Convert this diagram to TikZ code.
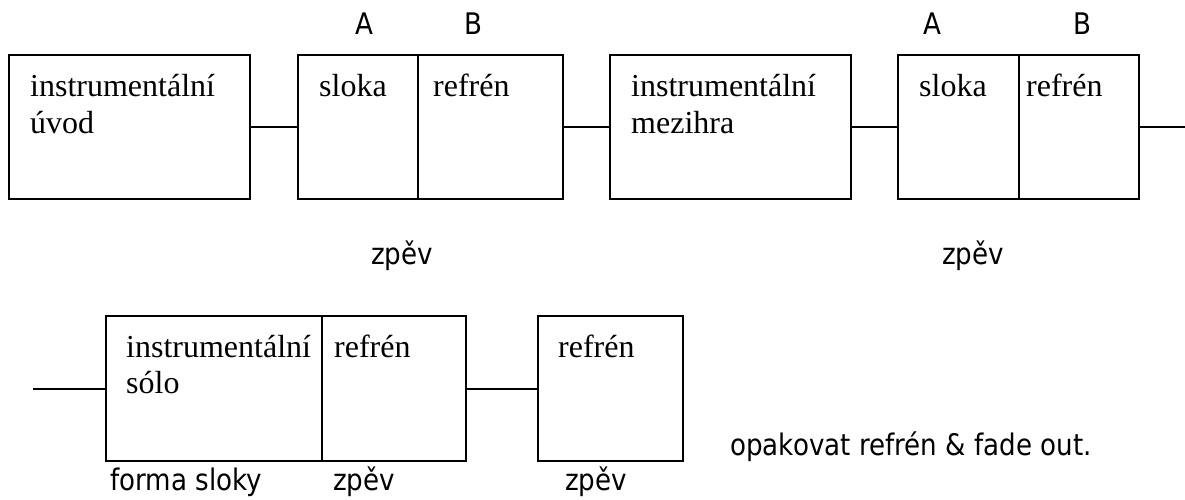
\documentclass[tikz,border=0pt]{standalone}
\usepackage{fontspec}
\setmainfont{Liberation Serif}
\newfontfamily\labelfont[FakeStretch=0.88]{DejaVu Sans}
\begin{document}
\begin{tikzpicture}[x=1pt,y=-1pt,
  box/.style={draw, line width=2pt, inner sep=0pt, minimum height=144pt},
  serif/.style={inner sep=0pt, anchor=base west, font=\fontsize{32}{37}\selectfont},
  sans/.style={inner sep=0pt, anchor=base, font=\labelfont\fontsize{29.7}{34}\selectfont},
  sansl/.style={sans, anchor=base west},
  link/.style={line width=2pt}]
\useasboundingbox (0,0) rectangle (1185,500);

% ---- row 1 ----
\node[box, minimum width=241pt] (b1) at (129.5,127) {};
\node[box, minimum width=120pt] (b2a) at (358,127) {};
\node[box, minimum width=145pt] (b2b) at (490.5,127) {};
\node[box, minimum width=241pt] (b3) at (730.5,127) {};
\node[box, minimum width=121pt] (b4a) at (958.5,127) {};
\node[box, minimum width=120pt] (b4b) at (1079,127) {};
\coordinate (rend) at (1185,127);

\draw[link] (b1.east) -- (b2a.west);
\draw[link] (b2b.east) -- (b3.west);
\draw[link] (b3.east) -- (b4a.west);
\draw[link] (b4b.east) -- (rend);

\node[serif] (t1a) at (30,97) {instrumentální};
\node[serif] (t1b) at (30,133) {úvod};
\node[serif] (t2a) at (319,97) {sloka};
\node[serif] (t2b) at (433,97) {refrén};
\node[serif] (t3a) at (631,97) {instrumentální};
\node[serif] (t3b) at (631,133) {mezihra};
\node[serif] (t4a) at (919,97) {sloka};
\node[serif] (t4b) at (1026,97) {refrén};

\node[sans] (A1) at (364,35) {A};
\node[sans] (B1) at (473,35) {B};
\node[sans] (A2) at (932,35) {A};
\node[sans] (B2) at (1082,35) {B};
\node[sans] (z1) at (402,264) {zpěv};
\node[sans] (z2) at (973,264) {zpěv};

% ---- row 2 ----
\node[box, minimum height=145pt, minimum width=216pt] (b5a) at (214,388.5) {};
\node[box, minimum height=145pt, minimum width=144pt] (b5b) at (394,388.5) {};
\node[box, minimum height=145pt, minimum width=145pt] (b6) at (610.5,388.5) {};
\coordinate (lstart) at (33,388.5);

\draw[link] (lstart) -- (b5a.west);
\draw[link] (b5b.east) -- (b6.west);

\node[serif] (t5a) at (126,357) {instrumentální};
\node[serif] (t5b) at (126,393) {sólo};
\node[serif] (t5c) at (334,357) {refrén};
\node[serif] (t6) at (558,357) {refrén};

\node[sansl] (f1) at (110,490) {forma sloky};
\node[sansl] (z3) at (333,490) {zpěv};
\node[sans] (z4) at (596,490) {zpěv};
\node[sansl] (op) at (730,455) {opakovat refrén \& fade out.};
\end{tikzpicture}
\end{document}
